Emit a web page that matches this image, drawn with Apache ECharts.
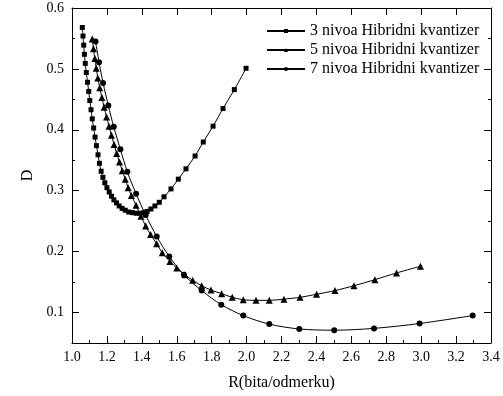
<!DOCTYPE html>
<html>
<head>
<meta charset="utf-8">
<script src="https://cdn.jsdelivr.net/npm/echarts@6/dist/echarts.min.js"></script>
<style>
  html, body { margin: 0; padding: 0; background: #fff; }
  #chart { width: 503px; height: 396px; }
</style>
</head>
<body>
<div id="chart"></div>
<script>
// 3 nivoa - kvadrati
const r3 = [1.059, 1.063, 1.067, 1.071, 1.076, 1.082, 1.089, 1.096, 1.102, 1.109, 1.116, 1.124, 1.132, 1.140, 1.149, 1.157,
  1.167, 1.177, 1.188, 1.200, 1.213, 1.226, 1.240, 1.255, 1.270, 1.287, 1.305, 1.325, 1.346, 1.368, 1.390, 1.410, 1.430,
  1.452, 1.475, 1.500, 1.527, 1.567, 1.609, 1.653, 1.705, 1.752, 1.808, 1.865, 1.930, 1.997];
const d3 = [0.568, 0.554, 0.539, 0.524, 0.509, 0.494, 0.478, 0.463, 0.448, 0.433, 0.418, 0.403, 0.388, 0.374, 0.359, 0.345,
  0.332, 0.322, 0.313, 0.305, 0.298, 0.291, 0.285, 0.280, 0.275, 0.271, 0.268, 0.265, 0.264, 0.263, 0.263, 0.264, 0.266,
  0.270, 0.275, 0.281, 0.290, 0.303, 0.319, 0.336, 0.357, 0.380, 0.406, 0.435, 0.466, 0.501];

// 5 nivoa - trouglovi
const r5 = [1.116, 1.123, 1.131, 1.139, 1.148, 1.159, 1.171, 1.184, 1.198, 1.212, 1.226, 1.241, 1.256, 1.272, 1.288, 1.305,
  1.322, 1.340, 1.367, 1.395, 1.422, 1.450, 1.485, 1.517, 1.561, 1.600, 1.647, 1.691, 1.743, 1.796, 1.857, 1.918, 1.981,
  2.054, 2.130, 2.214, 2.306, 2.401, 2.506, 2.615, 2.735, 2.859, 2.996];
const d5 = [0.549, 0.533, 0.517, 0.501, 0.485, 0.469, 0.453, 0.437, 0.421, 0.406, 0.391, 0.376, 0.361, 0.347, 0.333, 0.319,
  0.305, 0.292, 0.276, 0.258, 0.242, 0.228, 0.213, 0.198, 0.184, 0.173, 0.162, 0.153, 0.144, 0.137, 0.131, 0.125, 0.121,
  0.120, 0.120, 0.122, 0.125, 0.130, 0.136, 0.144, 0.154, 0.165, 0.176];

// 7 nivoa - krugovi
const r7 = [1.135, 1.155, 1.178, 1.208, 1.239, 1.277, 1.317, 1.367, 1.422, 1.485, 1.557, 1.641, 1.743, 1.855, 1.981,
  2.130, 2.302, 2.502, 2.730, 2.991, 3.295];
const d7 = [0.545, 0.511, 0.477, 0.440, 0.405, 0.368, 0.331, 0.295, 0.260, 0.225, 0.192, 0.162, 0.136, 0.113, 0.095,
  0.081, 0.073, 0.071, 0.074, 0.082, 0.095];

const names = ['3 nivoa Hibridni kvantizer', '5 nivoa Hibridni kvantizer', '7 nivoa Hibridni kvantizer'];
const yMajor = [0.1, 0.2, 0.3, 0.4, 0.5, 0.6];
const yMinor = [0.15, 0.25, 0.35, 0.45, 0.55];

const FONT = '"Liberation Serif", "Times New Roman", serif';
const BLACK = '#000';

const pairs = (xs, ys) => xs.map((x, i) => [x, ys[i]]);

const yAxisBase = (position, ticks, len, showLine, showLabel) => ({
  type: 'value',
  position,
  min: 0.05,
  max: 0.6,
  axisLine: { show: showLine, lineStyle: { color: BLACK, width: 1 } },
  axisTick: { show: true, inside: true, length: len, customValues: ticks, lineStyle: { color: BLACK } },
  axisLabel: showLabel
    ? { show: true, customValues: yMajor, formatter: v => v.toFixed(1), color: BLACK, fontFamily: FONT, fontSize: 14, margin: 8 }
    : { show: false },
  splitLine: { show: false }
});

const lineSeries = (name, data, symbol, size) => ({
  name,
  type: 'line',
  data,
  symbol,
  symbolSize: size,
  smooth: 0.3,
  lineStyle: { color: BLACK, width: 1 },
  itemStyle: { color: BLACK },
  emphasis: { disabled: true },
  z: 3
});

const chart = echarts.init(document.getElementById('chart'));
chart.setOption({
  animation: false,
  backgroundColor: '#fff',
  textStyle: { fontFamily: FONT },
  grid: { left: 72, right: 12, top: 8, bottom: 53 },
  legend: {
    orient: 'vertical',
    left: 266,
    top: 23,
    itemWidth: 38,
    itemHeight: 5,
    itemGap: 3,
    padding: 0,
    textStyle: { color: BLACK, fontFamily: FONT, fontSize: 16 },
    data: names
  },
  xAxis: [
    {
      type: 'value',
      position: 'bottom',
      min: 1.0,
      max: 3.4,
      interval: 0.2,
      name: 'R(bita/odmerku)',
      nameLocation: 'middle',
      nameGap: 32,
      nameTextStyle: { color: BLACK, fontFamily: FONT, fontSize: 16 },
      axisLine: { lineStyle: { color: BLACK, width: 1 } },
      axisTick: { inside: true, length: 7, lineStyle: { color: BLACK } },
      minorTick: { show: true, splitNumber: 2, length: 3, lineStyle: { color: BLACK } },
      axisLabel: { formatter: v => v.toFixed(1), color: BLACK, fontFamily: FONT, fontSize: 14, margin: 7 },
      splitLine: { show: false }
    },
    {
      type: 'value',
      position: 'top',
      min: 1.0,
      max: 3.4,
      interval: 0.2,
      axisLine: { lineStyle: { color: BLACK, width: 1 } },
      axisTick: { inside: true, length: 7, lineStyle: { color: BLACK } },
      axisLabel: { show: false },
      splitLine: { show: false }
    }
  ],
  yAxis: [
    Object.assign(yAxisBase('left', yMajor, 7, true, true), {
      name: 'D',
      nameLocation: 'middle',
      nameGap: 36,
      nameTextStyle: { color: BLACK, fontFamily: FONT, fontSize: 16 }
    }),
    yAxisBase('left', yMinor, 3, false, false),
    yAxisBase('right', yMajor, 7, true, false),
    yAxisBase('right', yMinor, 3, false, false)
  ],
  series: [
    lineSeries(names[0], pairs(r3, d3), 'rect', 5),
    lineSeries(names[1], pairs(r5, d5), 'triangle', 7),
    lineSeries(names[2], pairs(r7, d7), 'circle', 6)
  ]
});
</script>
</body>
</html>
